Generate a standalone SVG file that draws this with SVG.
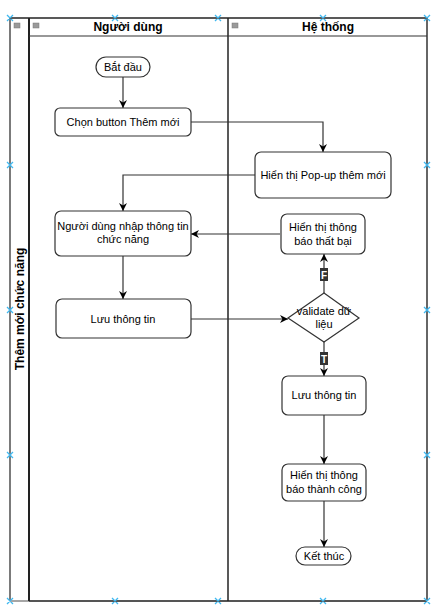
<svg xmlns="http://www.w3.org/2000/svg" width="435" height="607" viewBox="0 0 435 607">
<defs>
<marker id="arr" viewBox="0 0 10 10" refX="10" refY="5" markerWidth="8" markerHeight="8" markerUnits="userSpaceOnUse" orient="auto">
<path d="M0,0 L10,5 L0,10 L3,5 Z" fill="#000"/>
</marker>
<style>
.t{font-family:"Liberation Sans",Arial,sans-serif;font-size:11px;fill:#000;text-anchor:middle;dominant-baseline:central}
.h{font-family:"Liberation Sans",Arial,sans-serif;font-size:12px;font-weight:bold;fill:#000;text-anchor:middle;dominant-baseline:central}
.n{fill:#fff;stroke:#333;stroke-width:1.2}
.c{fill:none;stroke:#333;stroke-width:1.2}
.ca{fill:none;stroke:#333;stroke-width:1.2;marker-end:url(#arr)}
.mk{stroke:#3fb8f0;stroke-width:1.3}
.ic{fill:#9a9a9a;stroke:#777;stroke-width:0.5}
</style>
</defs>
<rect width="435" height="607" fill="#fff"/>
<g id="pool">
<line x1="10" y1="18" x2="10" y2="601" stroke="#222" stroke-width="1.2"/>
<line x1="10" y1="18" x2="427" y2="18" stroke="#222" stroke-width="1.5"/>
<line x1="10" y1="601" x2="29" y2="601" stroke="#888" stroke-width="1.5"/>
<line x1="29" y1="601" x2="427" y2="601" stroke="#555" stroke-width="2"/>
<rect class="ic" x="14" y="23" width="6" height="5"/>
<text class="h" transform="translate(20,309) rotate(-90)">Thêm mới chức năng</text>
</g>
<g id="lane1">
<line x1="29" y1="18" x2="29" y2="601" stroke="#222" stroke-width="2"/>
<line x1="29" y1="36" x2="228" y2="36" stroke="#333" stroke-width="1.2"/>
<rect class="ic" x="33" y="23" width="6" height="5"/>
<text class="h" x="128" y="27">Người dùng</text>
</g>
<g id="lane2">
<line x1="228" y1="18" x2="228" y2="601" stroke="#222" stroke-width="1.5"/>
<line x1="427" y1="18" x2="427" y2="601" stroke="#333" stroke-width="1.5"/>
<line x1="228" y1="36" x2="427" y2="36" stroke="#333" stroke-width="1.2"/>
<rect class="ic" x="232" y="23" width="6" height="5"/>
<text class="h" x="328" y="27">Hệ thống</text>
</g>
<g id="connectors">
<line class="ca" x1="123" y1="77" x2="123" y2="108"/>
<path class="ca" d="M191,122 H323 V152"/>
<path class="ca" d="M255,175 H123 V211"/>
<line class="ca" x1="123" y1="256" x2="123" y2="299"/>
<path class="ca" d="M191,319 H288"/>
<line class="ca" x1="324" y1="293" x2="324" y2="254"/>
<line class="ca" x1="280" y1="234" x2="191" y2="234"/>
<line class="ca" x1="324" y1="342" x2="324" y2="376"/>
<line class="ca" x1="324" y1="415" x2="324" y2="464"/>
<line class="ca" x1="324" y1="501" x2="324" y2="547"/>
<g id="labelF"><rect x="320" y="268" width="8" height="13" fill="#333"/><text class="t" x="324" y="275" style="fill:#fff;font-weight:bold;font-size:10px">F</text></g>
<g id="labelT"><rect x="320" y="352" width="8" height="13" fill="#333"/><text class="t" x="324" y="359" style="fill:#fff;font-weight:bold;font-size:10px">T</text></g>
</g>
<g id="start"><rect class="n" x="96" y="57" width="54" height="20" rx="10"/><text class="t" x="123" y="67">Bắt đầu</text></g>
<g id="chon"><rect class="n" x="55" y="108" width="136" height="28" rx="5"/><text class="t" x="123" y="122">Chọn button Thêm mới</text></g>
<g id="popup"><rect class="n" x="255" y="152" width="136" height="46" rx="6"/><text class="t" x="323" y="175">Hiển thị Pop-up thêm mới</text></g>
<g id="nhap"><rect class="n" x="55" y="211" width="136" height="45" rx="6"/><text class="t" x="123" y="226">Người dùng nhập thông tin</text><text class="t" x="123" y="239">chức năng</text></g>
<g id="luu1"><rect class="n" x="56" y="299" width="135" height="39" rx="6"/><text class="t" x="123" y="319">Lưu thông tin</text></g>
<g id="validate"><polygon class="n" points="324,293 359,318 324,342 288,318"/><text class="t" x="324" y="311">validate dữ</text><text class="t" x="324" y="324">liệu</text></g>
<g id="thatbai"><rect class="n" x="281" y="214" width="84" height="40" rx="6"/><text class="t" x="323" y="227">Hiển thị thông</text><text class="t" x="323" y="241">báo thất bại</text></g>
<g id="luu2"><rect class="n" x="282" y="376" width="84" height="39" rx="6"/><text class="t" x="324" y="395">Lưu thông tin</text></g>
<g id="thanhcong"><rect class="n" x="282" y="464" width="84" height="37" rx="6"/><text class="t" x="324" y="475">Hiển thị thông</text><text class="t" x="324" y="489">báo thành công</text></g>
<g id="end"><rect class="n" x="296" y="547" width="55" height="18" rx="9"/><text class="t" x="324" y="556">Kết thúc</text></g>
<g id="handles" class="mk">
<path d="M7,15 l6,6 M13,15 l-6,6 M112,15 l6,6 M118,15 l-6,6 M215,15 l6,6 M221,15 l-6,6 M320,15 l6,6 M326,15 l-6,6 M424,15 l6,6 M430,15 l-6,6"/>
<path d="M7,598 l6,6 M13,598 l-6,6 M112,598 l6,6 M118,598 l-6,6 M215,598 l6,6 M221,598 l-6,6 M320,598 l6,6 M326,598 l-6,6 M424,598 l6,6 M430,598 l-6,6"/>
<path d="M7,162 l6,6 M13,162 l-6,6 M7,307 l6,6 M13,307 l-6,6 M7,452 l6,6 M13,452 l-6,6"/>
<path d="M424,162 l6,6 M430,162 l-6,6 M424,307 l6,6 M430,307 l-6,6 M424,452 l6,6 M430,452 l-6,6"/>
</g>
</svg>
